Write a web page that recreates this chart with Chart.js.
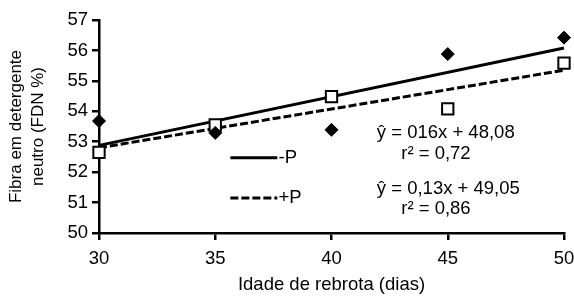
<!DOCTYPE html>
<html>
<head>
<meta charset="utf-8">
<script src="https://cdn.jsdelivr.net/npm/chart.js@4.4.1/dist/chart.umd.min.js"></script>
<style>
  html, body { margin: 0; padding: 0; background: #fff; }
  #wrap { width: 574px; height: 296px; }
</style>
</head>
<body>
<div id="wrap"><canvas id="grafico"></canvas></div>
<script>
// idade de rebrota (dias)
const idades = [30, 35, 40, 45, 50];
// FDN observada
const fdnSemP = [53.68, 53.29, 53.39, 55.88, 56.42];
const fdnComP = [52.65, 53.55, 54.48, 54.08, 55.58];
// retas ajustadas (extremos)
const retaX = [30, 50];
const retaSemP = [52.88, 56.08];
const retaComP = [52.80, 55.35];

const eqSemP = ['ŷ = 016x + 48,08', 'r² = 0,72'];
const eqComP = ['ŷ = 0,13x + 49,05', 'r² = 0,86'];

const fonte = "'Liberation Sans', Arial, sans-serif";
Chart.defaults.font.family = fonte;
Chart.defaults.color = '#000';

const pontos = (xs, ys) => xs.map((x, i) => ({ x: x, y: ys[i] }));

// legenda e equacoes dentro da area do grafico
const anotacoes = {
    id: 'anotacoes',
    afterDatasetsDraw(chart) {
        const ctx = chart.ctx;
        const sx = chart.scales.x, sy = chart.scales.y;
        ctx.save();
        ctx.strokeStyle = '#000';
        ctx.fillStyle = '#000';
        ctx.font = '18.5px ' + fonte;
        ctx.textBaseline = 'middle';

        // legenda
        ctx.lineWidth = 3;
        ctx.beginPath();
        ctx.moveTo(sx.getPixelForValue(35.65), sy.getPixelForValue(52.47));
        ctx.lineTo(sx.getPixelForValue(37.67), sy.getPixelForValue(52.47));
        ctx.stroke();
        ctx.fillText('-P', sx.getPixelForValue(37.72), sy.getPixelForValue(52.47));

        ctx.setLineDash([8, 3]);
        ctx.beginPath();
        ctx.moveTo(sx.getPixelForValue(35.65), sy.getPixelForValue(51.15));
        ctx.lineTo(sx.getPixelForValue(37.67), sy.getPixelForValue(51.15));
        ctx.stroke();
        ctx.setLineDash([]);
        ctx.fillText('+P', sx.getPixelForValue(37.72), sy.getPixelForValue(51.15));

        // equacoes
        ctx.fillText(eqSemP[0], sx.getPixelForValue(41.95), sy.getPixelForValue(53.28));
        ctx.fillText(eqSemP[1], sx.getPixelForValue(43.0), sy.getPixelForValue(52.6));
        ctx.fillText(eqComP[0], sx.getPixelForValue(41.95), sy.getPixelForValue(51.45));
        ctx.fillText(eqComP[1], sx.getPixelForValue(43.0), sy.getPixelForValue(50.8));
        ctx.restore();
    }
};

new Chart(document.getElementById('grafico'), {
    type: 'scatter',
    data: {
        datasets: [
            {
                label: '-P',
                data: pontos(idades, fdnSemP),
                pointStyle: 'rectRot',
                pointRadius: 6.5,
                backgroundColor: '#000',
                borderColor: '#000',
                borderWidth: 1,
                clip: false,
                order: 0
            },
            {
                label: '+P',
                data: pontos(idades, fdnComP),
                pointStyle: 'rect',
                pointRadius: 8,
                backgroundColor: '#fff',
                borderColor: '#000',
                borderWidth: 2,
                clip: false,
                order: 0
            },
            {
                label: 'reta -P',
                data: pontos(retaX, retaSemP),
                showLine: true,
                pointRadius: 0,
                borderColor: '#000',
                borderWidth: 3,
                clip: false,
                order: 1
            },
            {
                label: 'reta +P',
                data: pontos(retaX, retaComP),
                showLine: true,
                pointRadius: 0,
                borderColor: '#000',
                borderWidth: 3,
                borderDash: [8, 3],
                clip: false,
                order: 1
            }
        ]
    },
    options: {
        responsive: true,
        maintainAspectRatio: false,
        animation: false,
        layout: { padding: { top: 20, right: 8, left: 0, bottom: 0 } },
        plugins: {
            legend: { display: false },
            tooltip: { enabled: false }
        },
        scales: {
            x: {
                type: 'linear',
                min: 30,
                max: 50,
                afterFit: s => { s.height = 63; s.paddingRight = 0; s.paddingLeft = 0; },
                ticks: { stepSize: 5, font: { size: 18.5 }, padding: 8 },
                grid: { drawOnChartArea: false, color: '#000', lineWidth: 2.5, tickLength: 7 },
                border: { color: '#000', width: 2.5 },
                title: {
                    display: true,
                    text: 'Idade de rebrota (dias)',
                    font: { size: 18.5 },
                    padding: { top: 2, bottom: 0 }
                }
            },
            y: {
                min: 50,
                max: 57,
                afterFit: s => { s.width = 99; s.paddingTop = 0; s.paddingBottom = 0; },
                ticks: { stepSize: 1, font: { size: 18.5 }, padding: 4 },
                grid: { drawOnChartArea: false, color: '#000', lineWidth: 2.5, tickLength: 7 },
                border: { color: '#000', width: 2.5 },
                title: {
                    display: true,
                    text: ['Fibra em detergente', 'neutro (FDN %)'],
                    font: { size: 17, lineHeight: 1.25 },
                    padding: { top: 6, bottom: 8 }
                }
            }
        }
    },
    plugins: [anotacoes]
});
</script>
</body>
</html>
